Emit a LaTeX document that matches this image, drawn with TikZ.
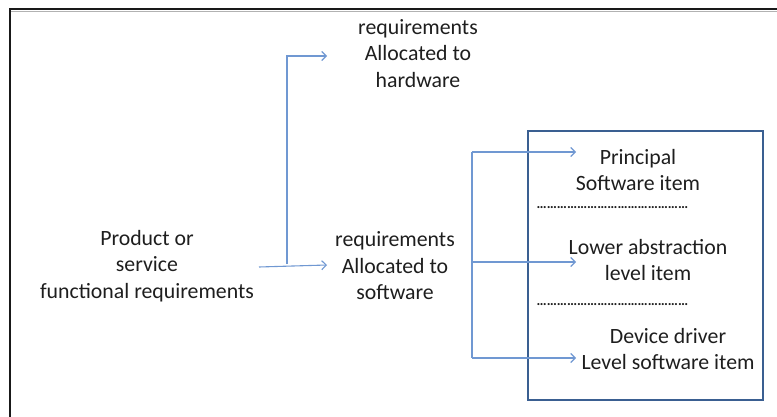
\documentclass[tikz,border=0pt]{standalone}
\usepackage{fontspec}
\setmainfont{Carlito}
\usetikzlibrary{arrows.meta}
\definecolor{arrowblue}{RGB}{112,152,210}
\definecolor{boxblue}{RGB}{58,95,145}
\definecolor{txtgray}{RGB}{30,30,30}
\tikzset{
  lbl/.style={align=center, inner sep=0pt, text=txtgray, font=\fontsize{21.8}{26.5}\selectfont},
  arr/.style={draw=arrowblue, line width=1.1pt, -{Straight Barb[length=4.5pt,width=9pt,line width=1.1pt]}},
  conn/.style={draw=arrowblue, line width=1.1pt},
  dots/.style={inner sep=0pt, text=txtgray, font=\bfseries\fontsize{14.2}{16}\selectfont}
}
\begin{document}
\begin{tikzpicture}[x=1pt,y=-1pt]
\useasboundingbox (0,0) rectangle (777,417);
% outer frame (left and top edges)
\draw[line width=1pt, gray!60] (11,11.5) -- (777,11.5);
\draw[line width=2.8pt, black!90] (10,417) -- (10,9) -- (777,9);

% text nodes
\node[lbl] (prod) at (147,266) {Product or\\service\\functional requirements};
\node[lbl] (hw) at (418,53.5) {requirements\\Allocated to\\hardware};
\node[lbl] (sw) at (395,266) {requirements\\Allocated to\\software};

% software box
\node[draw=boxblue, line width=2.6pt, minimum width=235pt, minimum height=269pt, inner sep=0pt] (box) at (645.5,265.5) {};

\node[lbl] (princ) at (638,170) {Principal\\Software item};
\node[lbl] (lower) at (648,260) {Lower abstraction\\level item};
\node[lbl] (dev) at (668,349) {Device driver\\Level software item};
\node[dots] (dots1) at (612.5,208) {\char"2026\char"2026\char"2026\char"2026\char"2026\char"2026\char"2026\char"2026\char"2026\char"2026\char"2026\char"2026\char"2026\char"2026\char"2026};
\node[dots] (dots2) at (612.5,305) {\char"2026\char"2026\char"2026\char"2026\char"2026\char"2026\char"2026\char"2026\char"2026\char"2026\char"2026\char"2026\char"2026\char"2026\char"2026};

% connector coordinates
\coordinate (mainS) at (259,267);
\coordinate (mainE) at (327,265);
\coordinate (hwJ) at (287,264);
\coordinate (hwE) at (327,56);
\coordinate (brTop) at (472,152);
\coordinate (brMid) at (472,262);
\coordinate (brBot) at (472,358);
\coordinate (pE) at (576,152);
\coordinate (lE) at (576,262);
\coordinate (dE) at (576,358);

\draw[arr] (mainS) -- (mainE);
\draw[arr] (hwJ) |- (hwE);
\draw[conn] (brTop) -- (brBot);
\draw[arr] (brTop) -- (pE);
\draw[arr] (brMid) -- (lE);
\draw[arr] (brBot) -- (dE);
\end{tikzpicture}
\end{document}
